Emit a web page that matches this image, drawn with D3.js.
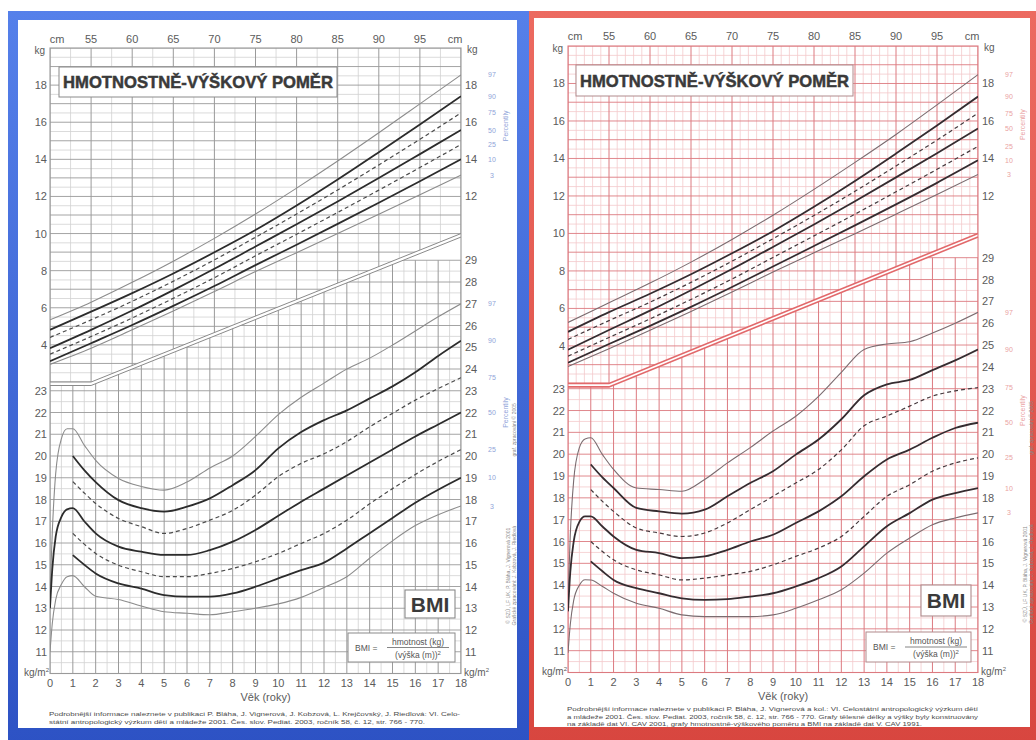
<!DOCTYPE html>
<html><head><meta charset="utf-8">
<script src="https://cdn.jsdelivr.net/npm/d3@7"></script>
<style>
body{margin:0;background:#fff}
svg{display:block}
text{font-family:"Liberation Sans",Arial,Helvetica,sans-serif}
</style>
</head><body><script>
// ---------------- DATA ----------------
const cmTicks = [55,60,65,70,75,80,85,90,95];
const kgTicksLeft = [4,6,8,10,12,14,16,18];
const kgTicksRight = [12,14,16,18];
const bmiTicksLeft = [11,12,13,14,15,16,17,18,19,20,21,22,23];
const bmiTicksRight = [11,12,13,14,15,16,17,18,19,20,21,22,23,24,25,26,27,28,29];
const ageTicks = [0,1,2,3,4,5,6,7,8,9,10,11,12,13,14,15,16,17,18];
const percentileNames = ["97","90","75","50","25","10","3"];

// weight-for-height boundary (cm, kg)
const boundaryCm = [50,55,100];
const boundaryKg = [2,2,10];

const heightCm = [50,55,60,65,70,75,80,85,90,95,100];
const boysWfhP97 = [5.35,6.3,7.37,8.51,9.74,11.05,12.45,13.91,15.43,16.99,18.55];
const boysWfhP90 = [4.81,5.79,6.79,7.85,8.99,10.19,11.51,12.91,14.38,15.88,17.4];
const boysWfhP75 = [4.4,5.35,6.35,7.43,8.58,9.8,11.05,12.35,13.7,15.08,16.5];
const boysWfhP50 = [3.82,4.81,5.85,6.95,8.1,9.3,10.5,11.73,12.99,14.28,15.58];
const boysWfhP25 = [3.5,4.45,5.45,6.51,7.62,8.8,9.96,11.14,12.34,13.56,14.8];
const boysWfhP10 = [3.12,4.09,5.07,6.1,7.17,8.3,9.4,10.52,11.66,12.82,14.0];
const boysWfhP3  = [2.95,3.82,4.81,5.83,6.88,7.95,8.97,10.0,11.04,12.09,13.15];

const girlsWfhP97 = [5.25,6.3,7.35,8.47,9.68,10.97,12.35,13.79,15.28,16.86,18.47];
const girlsWfhP90 = [4.75,5.8,6.78,7.82,8.94,10.12,11.42,12.8,14.26,15.76,17.3];
const girlsWfhP75 = [4.35,5.35,6.33,7.39,8.52,9.72,10.96,12.25,13.6,14.98,16.42];
const girlsWfhP50 = [3.8,4.85,5.88,6.97,8.1,9.28,10.48,11.72,12.99,14.28,15.6];
const girlsWfhP25 = [3.45,4.45,5.44,6.48,7.57,8.72,9.87,11.03,12.22,13.42,14.65];
const girlsWfhP10 = [3.1,4.1,5.07,6.08,7.14,8.24,9.33,10.43,11.55,12.7,13.9];
const girlsWfhP3  = [2.9,3.85,4.83,5.84,6.88,7.94,8.97,9.99,11.03,12.08,13.15];

const bmiAges = [0,0.1,0.25,0.5,0.75,1,1.5,2,3,4,5,6,7,8,9,10,11,12,13,14,15,16,17,18];
const boysBmiP97 = [13.6,16.5,19.2,20.8,21.25,21.25,20.5,19.8,18.97,18.6,18.43,18.8,19.45,20.0,20.9,21.9,22.7,23.35,24.0,24.5,25.1,25.75,26.4,27.0];
const boysBmiP90 = [null,null,null,null,null,20.0,19.35,18.8,17.97,17.6,17.44,17.67,18.05,18.66,19.35,20.35,21.1,21.65,22.1,22.65,23.2,23.85,24.6,25.3];
const boysBmiP75 = [null,null,null,null,null,18.82,18.3,17.82,17.13,16.75,16.44,16.67,17.05,17.5,18.2,19.05,19.66,20.1,20.66,21.34,21.96,22.57,23.1,23.6];
const boysBmiP50 = [13.0,14.8,16.3,17.2,17.55,17.6,17.0,16.44,15.83,15.6,15.45,15.45,15.67,16.06,16.6,17.25,17.9,18.5,19.1,19.7,20.3,20.9,21.45,22.0];
const boysBmiP25 = [null,null,null,null,null,16.44,15.95,15.52,14.98,14.68,14.45,14.45,14.6,14.83,15.14,15.52,15.98,16.44,17.05,17.8,18.5,19.15,19.75,20.3];
const boysBmiP10 = [null,null,null,null,null,15.44,15.0,14.6,14.14,13.9,13.6,13.53,13.53,13.68,13.99,14.37,14.75,15.1,15.75,16.45,17.15,17.85,18.45,19.0];
const boysBmiP3  = [11.0,12.3,13.4,14.1,14.45,14.5,14.0,13.55,13.4,13.1,12.84,12.77,12.7,12.84,13.0,13.2,13.5,13.95,14.45,15.3,16.1,16.8,17.3,17.7];

const girlsBmiP97 = [13.3,16.3,18.8,20.3,20.7,20.75,20.0,19.3,18.45,18.38,18.3,18.84,19.6,20.3,21.06,21.74,22.65,23.75,24.8,25.05,25.15,25.55,26.0,26.5];
const girlsBmiP90 = [null,null,null,null,null,19.53,18.95,18.45,17.54,17.38,17.28,17.46,18.07,18.68,19.22,19.98,20.67,21.6,22.7,23.2,23.4,23.85,24.3,24.8];
const girlsBmiP75 = [null,null,null,null,null,18.38,17.85,17.38,16.62,16.39,16.23,16.39,16.85,17.46,18.07,18.68,19.3,20.2,21.3,21.75,22.2,22.66,22.9,23.05];
const girlsBmiP50 = [12.8,14.6,16.0,16.9,17.15,17.15,16.7,16.23,15.62,15.47,15.24,15.32,15.62,16.0,16.31,16.85,17.38,18.07,18.99,19.76,20.21,20.75,21.2,21.44];
const girlsBmiP25 = [null,null,null,null,null,16.0,15.55,15.16,14.7,14.47,14.24,14.32,14.47,14.63,14.93,15.32,15.7,16.23,17.15,18.07,18.6,19.22,19.6,19.83];
const girlsBmiP10 = [null,null,null,null,null,15.09,14.65,14.24,13.86,13.63,13.4,13.33,13.36,13.48,13.63,13.94,14.32,14.86,15.78,16.7,17.3,17.92,18.22,18.45];
const girlsBmiP3  = [10.9,12.2,13.3,14.0,14.25,14.24,13.95,13.63,13.17,12.94,12.64,12.56,12.56,12.56,12.64,12.94,13.33,13.79,14.55,15.47,16.16,16.77,17.08,17.31];

const titleText = "HMOTNOSTNĚ-VÝŠKOVÝ POMĚR";
const footBoys = [
 "Podrobnější informace naleznete v publikaci P. Bláha, J. Vignerová, J. Kobzová, L. Krejčovský, J. Riedlová: VI. Celo-",
 "státní antropologický výzkum dětí a mládeže 2001. Čes. slov. Pediat. 2003, ročník 58, č. 12, str. 766 - 770."];
const footGirls = [
 "Podrobnější informace naleznete v publikaci P. Bláha, J. Vignerová a kol.: VI. Celostátní antropologický výzkum dětí",
 "a mládeže 2001. Čes. slov. Pediat. 2003, ročník 58, č. 12, str. 766 - 770. Grafy tělesné délky a výšky byly konstruovány",
 "na základě dat VI. CAV 2001, grafy hmotnostně-výškového poměru a BMI na základě dat V. CAV 1991."];
const copyText = ["© SZÚ, LF UK, P. Bláha, J. Vignerová 2001", "Grafické zpracování: J. Kobzová, J. Riedlová"];

// ---------------- DRAW ----------------
const svg = d3.select("body").append("svg").attr("width",1036).attr("height",740);
const defs = svg.append("defs");
function grad(id,c1,c2){
  const lg = defs.append("linearGradient").attr("id",id).attr("x1",0).attr("y1",0).attr("x2",0).attr("y2",1);
  lg.append("stop").attr("offset",0).attr("stop-color",c1);
  lg.append("stop").attr("offset",1).attr("stop-color",c2);
}
grad("gBlue","#5580ea","#2d52c4");
grad("gRed","#ec6a60","#d8463f");

const panels = [
 {id:"b", frame:[8,11,521,735], frameFill:"url(#gBlue)", inner:[18,20,499,708],
  x0:50, x1:461, kg2:382, kg20:48, bmi10:673.5, bmi29:260.25, cmY:43, ageY:687, titleY:701,
  major:"#9a9a9a", minor:"#d2d2d2", cmMinor:2.5, bnd:"#8a8a8a", bndW:1, pct:"#8fa4d9",
  thick:"#2c2c2c", thin:"#8c8c8c", dash:"#4a4a4a", label:"#5b5b5b", box:"#8a8a8a",
  title:[59,67,278,30], bmiBox:[405,590,50,28], fBox:[348,633,107,29],
  wfh:[boysWfhP97,boysWfhP90,boysWfhP75,boysWfhP50,boysWfhP25,boysWfhP10,boysWfhP3],
  bmi:[boysBmiP97,boysBmiP90,boysBmiP75,boysBmiP50,boysBmiP25,boysBmiP10,boysBmiP3],
  foot:footBoys, footY:[716,723.5], footW:[411,376]},
 {id:"g", frame:[529,11,507,735], frameFill:"url(#gRed)", inner:[534,18,496,709],
  x0:568, x1:978, kg2:383.4, kg20:46, bmi10:672.5, bmi29:257.7, cmY:40, ageY:686, titleY:700,
  major:"#dc7a80", minor:"#f4c9cc", cmMinor:1, bnd:"#e2696b", bndW:1.6, pct:"#eaa2a2",
  thick:"#352c30", thin:"#7b6c70", dash:"#463a3e", label:"#5b5b5b", box:"#b08a8c",
  title:[576,65,277,31], bmiBox:[921,585,50,31], fBox:[866,632,105,30],
  wfh:[girlsWfhP97,girlsWfhP90,girlsWfhP75,girlsWfhP50,girlsWfhP25,girlsWfhP10,girlsWfhP3],
  bmi:[girlsBmiP97,girlsBmiP90,girlsBmiP75,girlsBmiP50,girlsBmiP25,girlsBmiP10,girlsBmiP3],
  foot:footGirls, footY:[711,718.5,726], footW:[411,411,355]}
];

const styleOf = i => (i===0||i===6) ? "thin" : (i===2||i===4) ? "dash" : "thick";

panels.forEach(P => {
  const g = svg.append("g");
  g.append("rect").attr("x",P.frame[0]).attr("y",P.frame[1]).attr("width",P.frame[2]).attr("height",P.frame[3]).attr("fill",P.frameFill);
  g.append("rect").attr("x",P.inner[0]).attr("y",P.inner[1]).attr("width",P.inner[2]).attr("height",P.inner[3]).attr("fill","#fff");

  const xCm = d3.scaleLinear().domain([50,100]).range([P.x0,P.x1]);
  const yKg = d3.scaleLinear().domain([2,20]).range([P.kg2,P.kg20]);
  const xAge = d3.scaleLinear().domain([0,18]).range([P.x0,P.x1]);
  const yBmi = d3.scaleLinear().domain([10,29]).range([P.bmi10,P.bmi29]);
  const top = yKg(20), bottom = yBmi(10), gap = 3.5;
  const bnd = boundaryCm.map((c,i)=>[xCm(c), yKg(boundaryKg[i])]);

  const wPoly = [[P.x0,top],[P.x1,top],...bnd.slice().reverse()];
  const bPoly = [...bnd.map(p=>[p[0],p[1]+gap]),[P.x1,bottom],[P.x0,bottom]];
  defs.append("clipPath").attr("id","cw"+P.id).append("polygon").attr("points",wPoly.map(p=>p.join(",")).join(" "));
  defs.append("clipPath").attr("id","cb"+P.id).append("polygon").attr("points",bPoly.map(p=>p.join(",")).join(" "));

  // weight grid
  const gw = g.append("g").attr("clip-path",`url(#cw${P.id})`);
  const cmLines = d3.range(50,100.01,P.cmMinor);
  const kgLines = d3.range(2,20.01,0.5);
  gw.selectAll("line.v").data(cmLines.filter(c=>c%5!==0)).join("line")
    .attr("x1",d=>xCm(d)).attr("x2",d=>xCm(d)).attr("y1",top).attr("y2",P.kg2).attr("stroke",P.minor).attr("stroke-width",0.8);
  gw.selectAll("line.h").data(kgLines.filter(k=>k%1!==0)).join("line")
    .attr("y1",d=>yKg(d)).attr("y2",d=>yKg(d)).attr("x1",P.x0).attr("x2",P.x1).attr("stroke",P.minor).attr("stroke-width",0.8);
  gw.selectAll("line.hm").data(kgLines.filter(k=>k%1===0)).join("line")
    .attr("y1",d=>yKg(d)).attr("y2",d=>yKg(d)).attr("x1",P.x0).attr("x2",P.x1).attr("stroke",P.major).attr("stroke-width",0.9);
  gw.selectAll("line.vm").data(cmLines.filter(c=>c%5===0)).join("line")
    .attr("x1",d=>xCm(d)).attr("x2",d=>xCm(d)).attr("y1",top).attr("y2",P.kg2).attr("stroke",P.major).attr("stroke-width",1);

  // BMI grid
  const gb = g.append("g").attr("clip-path",`url(#cb${P.id})`);
  const ageLines = d3.range(0,18.01,0.5);
  const bmiLines = d3.range(10,29.01,0.5);
  gb.selectAll("line.v").data(ageLines.filter(a=>a%1!==0)).join("line")
    .attr("x1",d=>xAge(d)).attr("x2",d=>xAge(d)).attr("y1",yBmi(29)).attr("y2",bottom).attr("stroke",P.minor).attr("stroke-width",0.8);
  gb.selectAll("line.h").data(bmiLines.filter(b=>b%1!==0)).join("line")
    .attr("y1",d=>yBmi(d)).attr("y2",d=>yBmi(d)).attr("x1",P.x0).attr("x2",P.x1).attr("stroke",P.minor).attr("stroke-width",0.8);
  gb.selectAll("line.hm").data(bmiLines.filter(b=>b%1===0)).join("line")
    .attr("y1",d=>yBmi(d)).attr("y2",d=>yBmi(d)).attr("x1",P.x0).attr("x2",P.x1).attr("stroke",P.major).attr("stroke-width",0.9);
  gb.selectAll("line.vm").data(ageLines.filter(a=>a%1===0)).join("line")
    .attr("x1",d=>xAge(d)).attr("x2",d=>xAge(d)).attr("y1",yBmi(29)).attr("y2",bottom).attr("stroke",P.major).attr("stroke-width",1);

  // frame of plot
  g.append("rect").attr("x",P.x0).attr("y",top).attr("width",P.x1-P.x0).attr("height",bottom-top)
    .attr("fill","none").attr("stroke",P.major).attr("stroke-width",1.1);
  // boundary double line
  const ln = d3.line();
  g.append("path").attr("d",ln(bnd)).attr("fill","none").attr("stroke",P.bnd).attr("stroke-width",P.bndW);
  g.append("path").attr("d",ln(bnd.map(p=>[p[0],p[1]+gap]))).attr("fill","none").attr("stroke",P.bnd).attr("stroke-width",P.bndW);

  // title box
  g.append("rect").attr("x",P.title[0]).attr("y",P.title[1]).attr("width",P.title[2]).attr("height",P.title[3])
    .attr("fill","#fff").attr("stroke",P.box).attr("stroke-width",1);
  g.append("text").attr("x",P.title[0]+4).attr("y",P.title[1]+P.title[3]/2+6).attr("font-size",17).attr("font-weight","bold")
    .attr("fill","#3a3a3a").attr("stroke","#3a3a3a").attr("stroke-width",0.5)
    .attr("textLength",P.title[2]-8).attr("lengthAdjust","spacingAndGlyphs").text(titleText);

  // curves
  const styleAttr = (sel,i) => {
    const s = styleOf(i);
    sel.attr("fill","none")
      .attr("stroke", s==="thick"?P.thick: s==="dash"?P.dash:P.thin)
      .attr("stroke-width", s==="thick"?1.8: s==="dash"?1.2:1.1)
      .attr("stroke-dasharray", s==="dash"?"4,3":null);
  };
  const wLine = d3.line().x(d=>xCm(d[0])).y(d=>yKg(d[1])).curve(d3.curveMonotoneX);
  const gwc = g.append("g").attr("clip-path",`url(#cw${P.id})`);
  P.wfh.forEach((arr,i)=>{
    gwc.append("path").datum(heightCm.map((c,j)=>[c,arr[j]])).attr("d",wLine).call(styleAttr,i);
  });
  const bLine = d3.line().defined(d=>d[1]!=null).x(d=>xAge(d[0])).y(d=>yBmi(d[1])).curve(d3.curveMonotoneX);
  const gbc = g.append("g").attr("clip-path",`url(#cb${P.id})`);
  P.bmi.forEach((arr,i)=>{
    gbc.append("path").datum(bmiAges.map((a,j)=>[a,arr[j]])).attr("d",bLine).call(styleAttr,i);
  });

  // BMI boxes
  g.append("rect").attr("x",P.bmiBox[0]).attr("y",P.bmiBox[1]).attr("width",P.bmiBox[2]).attr("height",P.bmiBox[3])
    .attr("fill","#fff").attr("stroke",P.box).attr("stroke-width",1.1);
  g.append("text").attr("x",P.bmiBox[0]+P.bmiBox[2]/2).attr("y",P.bmiBox[1]+P.bmiBox[3]/2+7.5).attr("text-anchor","middle")
    .attr("font-size",21).attr("font-weight","bold").attr("fill","#3a3a3a").text("BMI");
  const fb = P.fBox;
  g.append("rect").attr("x",fb[0]).attr("y",fb[1]).attr("width",fb[2]).attr("height",fb[3])
    .attr("fill","#fff").attr("stroke",P.box).attr("stroke-width",1);
  const fm = fb[1]+fb[3]/2;
  g.append("text").attr("x",fb[0]+7).attr("y",fm+3).attr("font-size",8.5).attr("fill","#555").text("BMI =");
  g.append("line").attr("x1",fb[0]+39).attr("x2",fb[0]+101).attr("y1",fm).attr("y2",fm).attr("stroke","#666").attr("stroke-width",0.8);
  g.append("text").attr("x",fb[0]+70).attr("y",fm-3).attr("text-anchor","middle").attr("font-size",8.5).attr("fill","#555").text("hmotnost (kg)");
  const den = g.append("text").attr("x",fb[0]+70).attr("y",fm+10).attr("text-anchor","middle").attr("font-size",8.5).attr("fill","#555");
  den.append("tspan").text("(výška (m))");
  den.append("tspan").attr("dy",-3).attr("font-size",6).text("2");

  // axis labels
  const lab = (x,y,t,anchor,size,fill) => g.append("text").attr("x",x).attr("y",y).attr("text-anchor",anchor||"middle")
    .attr("font-size",size||11).attr("fill",fill||P.label).text(t);
  cmTicks.forEach(c=>lab(xCm(c),P.cmY,c));
  lab(xCm(50)+7,P.cmY,"cm"); lab(xCm(100)-6,P.cmY,"cm");
  lab(P.x0-5,top+6,"kg","end",10); lab(P.x1+6,top+5,"kg","start",10);
  kgTicksLeft.forEach(k=>lab(P.x0-3,yKg(k)+4,k,"end"));
  kgTicksRight.forEach(k=>lab(P.x1+4,yKg(k)+4,k,"start"));
  bmiTicksLeft.forEach(b=>lab(P.x0-3,yBmi(b)+4,b,"end"));
  bmiTicksRight.forEach(b=>lab(P.x1+4,yBmi(b)+4,b,"start"));
  ageTicks.forEach(a=>lab(xAge(a),P.ageY,a));
  const km1 = lab(P.x0-1,bottom+2,"kg/m","end",10); km1.append("tspan").attr("dy",-4).attr("font-size",6).text("2");
  const km2 = lab(P.x1+3,bottom+2,"kg/m","start",10); km2.append("tspan").attr("dy",-4).attr("font-size",6).text("2");
  lab((P.x0+P.x1)/2+10,P.titleY,"Věk (roky)","middle",11);

  // percentile labels
  percentileNames.forEach((n,i)=>{
    const arr = P.wfh[i];
    lab(P.x1+31,yKg(arr[arr.length-1])+2.5,n,"middle",7,P.pct);
    const b = P.bmi[i];
    lab(P.x1+31,yBmi(b[b.length-1])+2.5,n,"middle",7,P.pct);
  });
  const rot = (x,y,t,size,fill) => g.append("text").attr("transform",`translate(${x},${y}) rotate(-90)`)
    .attr("text-anchor","middle").attr("font-size",size).attr("fill",fill).text(t);
  rot(P.x1+47,yKg(15.8),"Percentily",7,P.pct);
  rot(P.x1+47,yBmi(22),"Percentily",7,P.pct);
  rot(P.x1+49,yBmi(14.5),copyText[0],5,"#888");
  rot(P.x1+55,yBmi(14.5),copyText[1],5,"#888");
  rot(P.x1+55,yBmi(21.2),"graf. zpracování © 2005",5,"#888");

  // footnotes
  P.foot.forEach((t,i)=>{
    g.append("text").attr("x",P.x0-1).attr("y",P.footY[i]).attr("font-size",6.2).attr("fill","#4a4a4a")
      .attr("textLength",P.footW[i]).attr("lengthAdjust","spacingAndGlyphs").text(t);
  });
});
</script></body></html>
